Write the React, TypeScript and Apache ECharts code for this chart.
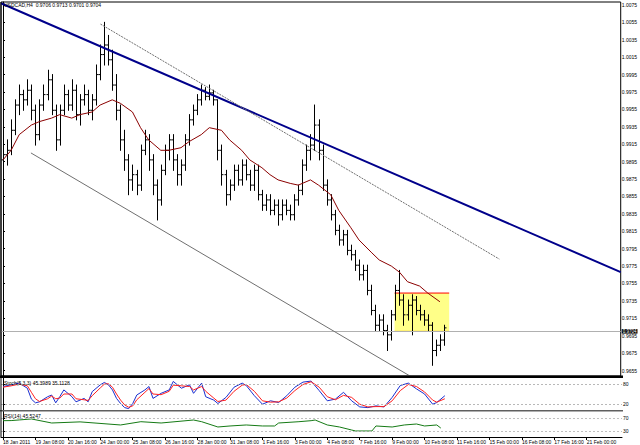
import React, { useEffect, useRef } from "react";
import * as echarts from "echarts";

const chartTitle = "USDCAD,H4  0.9706 0.9713 0.9701 0.9704";
const stochTitle = "Stoch(5,3,3) 45.3989 35.1128";
const rsiTitle = "RSI(14) 45.5247";
const currentPrice = 0.9704;

const priceTicks = [
  0.9655, 0.9675, 0.9695, 0.9715, 0.9735, 0.9755, 0.9775, 0.9795, 0.9815, 0.9835, 0.9855,
  0.9875, 0.9895, 0.9915, 0.9935, 0.9955, 0.9975, 0.9995, 1.0015, 1.0035, 1.0055, 1.0075,
];
const stochLevels = [20, 80];
const rsiLevels = [30, 70];

const timeTickBars = [0, 8, 16, 24, 32, 40, 48, 56, 64, 72, 80, 88, 96, 104, 112, 120, 128, 136, 144];
const timeTickLabels = [
  "18 Jan 2011", "19 Jan 08:00", "20 Jan 16:00", "24 Jan 00:00", "25 Jan 08:00", "26 Jan 16:00",
  "28 Jan 00:00", "31 Jan 08:00", "1 Feb 16:00", "3 Feb 00:00", "4 Feb 08:00", "7 Feb 16:00",
  "9 Feb 00:00", "10 Feb 08:00", "11 Feb 16:00", "15 Feb 00:00", "16 Feb 08:00", "17 Feb 16:00",
  "21 Feb 00:00",
];

// [open, high, low, close]
const ohlcBars = [
  [0.9897, 0.9914, 0.9885, 0.9903], [0.9903, 0.9920, 0.9891, 0.9908], [0.9908, 0.9943, 0.9903, 0.9931],
  [0.9931, 0.9966, 0.9926, 0.9960], [0.9960, 0.9983, 0.9949, 0.9972], [0.9972, 0.9977, 0.9954, 0.9966],
  [0.9966, 0.9989, 0.9960, 0.9977], [0.9977, 0.9983, 0.9943, 0.9954], [0.9954, 0.9960, 0.9914, 0.9926],
  [0.9926, 0.9966, 0.9920, 0.9960], [0.9960, 0.9983, 0.9954, 0.9972], [0.9972, 1.0000, 0.9966, 0.9989],
  [0.9989, 0.9995, 0.9949, 0.9954], [0.9954, 0.9960, 0.9908, 0.9920], [0.9920, 0.9960, 0.9914, 0.9954],
  [0.9954, 0.9983, 0.9949, 0.9972], [0.9972, 0.9977, 0.9954, 0.9960], [0.9960, 0.9989, 0.9954, 0.9977],
  [0.9977, 0.9983, 0.9943, 0.9949], [0.9949, 0.9972, 0.9937, 0.9966], [0.9966, 0.9983, 0.9960, 0.9972],
  [0.9972, 0.9977, 0.9949, 0.9954], [0.9954, 0.9972, 0.9943, 0.9966], [0.9966, 1.0006, 0.9960, 0.9995],
  [0.9995, 1.0029, 0.9989, 1.0018], [1.0018, 1.0055, 1.0006, 1.0029], [1.0029, 1.0040, 1.0006, 1.0012],
  [1.0012, 1.0023, 0.9977, 0.9983], [0.9983, 0.9995, 0.9943, 0.9954], [0.9954, 0.9960, 0.9908, 0.9920],
  [0.9920, 0.9931, 0.9885, 0.9897], [0.9897, 0.9903, 0.9857, 0.9874], [0.9874, 0.9891, 0.9862, 0.9880],
  [0.9880, 0.9885, 0.9857, 0.9868], [0.9868, 0.9914, 0.9862, 0.9908], [0.9908, 0.9931, 0.9903, 0.9920],
  [0.9920, 0.9926, 0.9885, 0.9897], [0.9897, 0.9903, 0.9857, 0.9868], [0.9868, 0.9874, 0.9828, 0.9851],
  [0.9851, 0.9891, 0.9845, 0.9885], [0.9885, 0.9914, 0.9880, 0.9908], [0.9908, 0.9926, 0.9897, 0.9920],
  [0.9920, 0.9926, 0.9885, 0.9897], [0.9897, 0.9903, 0.9868, 0.9880], [0.9880, 0.9897, 0.9868, 0.9891],
  [0.9891, 0.9926, 0.9885, 0.9920], [0.9920, 0.9949, 0.9914, 0.9943], [0.9943, 0.9960, 0.9937, 0.9954],
  [0.9954, 0.9972, 0.9949, 0.9966], [0.9966, 0.9983, 0.9960, 0.9977], [0.9977, 0.9980, 0.9966, 0.9970],
  [0.9970, 0.9983, 0.9966, 0.9974], [0.9974, 0.9977, 0.9960, 0.9966], [0.9966, 0.9966, 0.9897, 0.9908],
  [0.9908, 0.9914, 0.9868, 0.9880], [0.9880, 0.9885, 0.9845, 0.9857], [0.9857, 0.9874, 0.9851, 0.9868],
  [0.9868, 0.9891, 0.9862, 0.9885], [0.9885, 0.9891, 0.9868, 0.9874], [0.9874, 0.9897, 0.9868, 0.9891],
  [0.9891, 0.9897, 0.9874, 0.9880], [0.9880, 0.9885, 0.9862, 0.9868], [0.9868, 0.9891, 0.9862, 0.9885],
  [0.9885, 0.9891, 0.9851, 0.9857], [0.9857, 0.9862, 0.9839, 0.9845], [0.9845, 0.9857, 0.9839, 0.9851],
  [0.9851, 0.9857, 0.9834, 0.9839], [0.9839, 0.9851, 0.9834, 0.9845], [0.9845, 0.9851, 0.9822, 0.9834],
  [0.9834, 0.9851, 0.9828, 0.9845], [0.9845, 0.9851, 0.9834, 0.9839], [0.9839, 0.9845, 0.9828, 0.9834],
  [0.9834, 0.9857, 0.9828, 0.9851], [0.9851, 0.9868, 0.9845, 0.9862], [0.9862, 0.9897, 0.9857, 0.9891],
  [0.9891, 0.9914, 0.9885, 0.9908], [0.9908, 0.9926, 0.9897, 0.9914], [0.9914, 0.9960, 0.9908, 0.9937],
  [0.9937, 0.9943, 0.9897, 0.9908], [0.9908, 0.9914, 0.9862, 0.9868], [0.9868, 0.9874, 0.9845, 0.9851],
  [0.9851, 0.9857, 0.9828, 0.9834], [0.9834, 0.9839, 0.9811, 0.9816], [0.9816, 0.9822, 0.9799, 0.9805],
  [0.9805, 0.9816, 0.9799, 0.9811], [0.9811, 0.9816, 0.9788, 0.9793], [0.9793, 0.9799, 0.9782, 0.9788],
  [0.9788, 0.9793, 0.9770, 0.9776], [0.9776, 0.9782, 0.9759, 0.9765], [0.9765, 0.9776, 0.9759, 0.9770],
  [0.9770, 0.9776, 0.9742, 0.9747], [0.9747, 0.9753, 0.9719, 0.9724], [0.9724, 0.9730, 0.9701, 0.9707],
  [0.9707, 0.9719, 0.9701, 0.9713], [0.9713, 0.9719, 0.9696, 0.9701], [0.9701, 0.9707, 0.9678, 0.9696],
  [0.9696, 0.9724, 0.9690, 0.9719], [0.9719, 0.9753, 0.9713, 0.9747], [0.9747, 0.9770, 0.9730, 0.9736],
  [0.9736, 0.9742, 0.9707, 0.9719], [0.9719, 0.9736, 0.9713, 0.9730], [0.9730, 0.9742, 0.9696, 0.9736],
  [0.9736, 0.9740, 0.9719, 0.9724], [0.9724, 0.9730, 0.9713, 0.9719], [0.9719, 0.9724, 0.9707, 0.9713],
  [0.9713, 0.9719, 0.9701, 0.9707], [0.9707, 0.9710, 0.9661, 0.9678], [0.9678, 0.9690, 0.9672, 0.9684],
  [0.9684, 0.9696, 0.9678, 0.9690], [0.9690, 0.9707, 0.9684, 0.9704],
];

// moving average [bar, price]
const maPoints = [
  [0, 0.9897], [2, 0.9908], [4, 0.9926], [7, 0.9937], [9, 0.9941], [12, 0.9945], [14, 0.9949],
  [17, 0.9945], [19, 0.9949], [22, 0.9952], [24, 0.9960], [27, 0.9966], [29, 0.9962], [32, 0.9952],
  [34, 0.9934], [36, 0.9920], [39, 0.9908], [41, 0.9908], [44, 0.9911], [46, 0.9918], [49, 0.9926],
  [51, 0.9934], [54, 0.9931], [56, 0.9920], [59, 0.9908], [61, 0.9897], [64, 0.9888], [66, 0.9880],
  [68, 0.9874], [71, 0.9870], [73, 0.9868], [76, 0.9874], [78, 0.9868], [81, 0.9857], [83, 0.9839],
  [86, 0.9819], [88, 0.9805], [91, 0.9791], [93, 0.9782], [96, 0.9775], [98, 0.9768], [100, 0.9757],
  [103, 0.9752], [105, 0.9744], [108, 0.9734],
];

// trend lines [bar, price]
const mainTrend = [[-0.5, 1.0077], [152.7, 0.9768]];
const channelUpper = [[24.1, 1.0053], [122.7, 0.9783]];
const channelLower = [[6.9, 0.9905], [110, 0.9623]];
// range box [bar from, bar to, top price, bottom price]
const rangeBox = [[96.8, 110.3, 0.9744, 0.9700]];

const stochMain = [
  [0, 72], [2, 77], [4, 82], [6, 67], [7, 35], [8, 24], [9, 27], [11, 42], [12, 47], [13, 24], [14, 42],
  [15, 62], [17, 42], [18, 27], [20, 37], [21, 27], [22, 57], [24, 77], [25, 84], [26, 77], [27, 62],
  [28, 37], [29, 22], [30, 10], [31, 7], [32, 22], [33, 47], [35, 62], [36, 72], [37, 37], [39, 52],
  [41, 62], [42, 87], [44, 67], [46, 77], [47, 52], [49, 82], [50, 42], [52, 32], [53, 22], [55, 40],
  [57, 70], [59, 82], [60, 75], [62, 45], [64, 20], [66, 30], [68, 25], [70, 45], [72, 70], [74, 85],
  [76, 88], [78, 60], [80, 30], [82, 35], [84, 55], [86, 30], [88, 12], [90, 10], [92, 15], [94, 12],
  [96, 40], [98, 75], [100, 82], [102, 65], [104, 50], [106, 20], [107, 25], [109, 45],
];
const stochSignal = [
  [0, 70], [2, 74], [4, 79], [6, 74], [7, 55], [8, 36], [9, 28], [11, 36], [12, 44], [13, 36], [14, 38],
  [15, 50], [17, 50], [18, 36], [20, 33], [21, 31], [22, 45], [24, 68], [25, 79], [26, 80], [27, 70],
  [28, 50], [29, 32], [30, 18], [31, 11], [32, 15], [33, 33], [35, 55], [36, 66], [37, 50], [39, 48],
  [41, 58], [42, 76], [44, 74], [46, 72], [47, 62], [49, 72], [50, 58], [52, 38], [53, 28], [55, 32],
  [57, 58], [59, 76], [60, 78], [62, 58], [64, 30], [66, 26], [68, 27], [70, 38], [72, 60], [74, 78],
  [76, 86], [78, 70], [80, 42], [82, 33], [84, 46], [86, 40], [88, 20], [90, 12], [92, 13], [94, 13],
  [96, 30], [98, 60], [100, 78], [102, 72], [104, 56], [106, 32], [107, 26], [109, 36],
];
const rsiPoints = [
  [0, 61.7], [2, 62], [4, 64], [7, 67], [12, 54.6], [19, 58], [29, 48.5], [34, 58.6], [39, 54.6],
  [47, 63.8], [49, 58.6], [53, 42.3], [56, 45.4], [60, 48.5], [64, 45.4], [67, 45.4], [68, 54.6],
  [73, 58.6], [76, 61.7], [77, 63.8], [80, 48.5], [83, 42.3], [86, 33], [87, 30], [91, 30], [92, 45.4],
  [96, 42.3], [99, 48.5], [102, 51.5], [104, 45.4], [107, 48.5], [108, 39],
];

const FONT = "Liberation Sans";
const X_MIN = -0.5;
const X_MAX = 152.7;

export default function App() {
  const ref = useRef<HTMLDivElement>(null);
  useEffect(() => {
    if (!ref.current) return;
    const chart = echarts.init(ref.current, null, { renderer: "svg" });
    const axisFont = { fontSize: 5, color: "#000", fontFamily: FONT };
    const hiddenX = (gi: number) => ({
      type: "value", gridIndex: gi, min: X_MIN, max: X_MAX, show: false,
    });
    const option: any = {
      animation: false,
      backgroundColor: "#fff",
      grid: [
        { left: 1, top: 2, width: 621, height: 374, show: true, borderColor: "#000", borderWidth: 1 },
        { left: 1, top: 377, width: 621, height: 34, show: false },
        { left: 1, top: 411, width: 621, height: 26, show: false },
      ],
      xAxis: [
        hiddenX(0),
        hiddenX(1),
        {
          type: "value", gridIndex: 2, min: X_MIN, max: X_MAX, position: "bottom",
          axisLine: { show: true, lineStyle: { color: "#000", width: 1 } },
          axisTick: { show: true, customValues: timeTickBars, length: 3, lineStyle: { color: "#000" } },
          axisLabel: {
            show: true, customValues: timeTickBars, align: "left", margin: 2, ...axisFont,
            formatter: (v: number) => timeTickLabels[timeTickBars.indexOf(Math.round(v))] ?? "",
          },
          splitLine: { show: false },
        },
      ],
      yAxis: [
        {
          type: "value", gridIndex: 0, position: "right", min: 0.96487, max: 1.00784,
          axisLine: { show: true, lineStyle: { color: "#000" } },
          axisTick: { show: true, customValues: priceTicks, length: 2, lineStyle: { color: "#000" } },
          axisLabel: { show: true, customValues: priceTicks, margin: 1, ...axisFont, formatter: (v: number) => v.toFixed(4) },
          splitLine: { show: false },
        },
        {
          type: "value", gridIndex: 1, position: "right", min: 0, max: 100,
          axisLine: { show: true, lineStyle: { color: "#000" } },
          axisTick: { show: true, customValues: stochLevels, length: 2, lineStyle: { color: "#000" } },
          axisLabel: { show: true, customValues: stochLevels, margin: 1, ...axisFont },
          splitLine: { show: false },
        },
        {
          type: "value", gridIndex: 2, position: "right", min: 11.5, max: 91.5,
          axisLine: { show: true, lineStyle: { color: "#000" } },
          axisTick: { show: true, customValues: rsiLevels, length: 2, lineStyle: { color: "#000" } },
          axisLabel: { show: true, customValues: rsiLevels, margin: 1, ...axisFont },
          splitLine: { show: false },
        },
      ],
      series: [
        {
          type: "custom", name: "box", xAxisIndex: 0, yAxisIndex: 0, z: 1, clip: true,
          data: rangeBox,
          renderItem: (_p: any, api: any) => {
            const a = api.coord([api.value(0), api.value(2)]);
            const b = api.coord([api.value(1), api.value(3)]);
            return {
              type: "group",
              children: [
                { type: "rect", shape: { x: a[0], y: a[1], width: b[0] - a[0], height: b[1] - a[1] }, style: { fill: "#ffff88" } },
                { type: "line", shape: { x1: a[0], y1: a[1], x2: b[0], y2: a[1] }, style: { stroke: "#ff0000", lineWidth: 1 } },
                { type: "line", shape: { x1: a[0], y1: b[1], x2: b[0], y2: b[1] }, style: { stroke: "#ffa500", lineWidth: 1 } },
              ],
            };
          },
        },
        {
          type: "custom", name: "bars", xAxisIndex: 0, yAxisIndex: 0, z: 3, clip: true,
          data: ohlcBars.map((b, i) => [i, b[0], b[1], b[2], b[3]]),
          encode: { x: 0, y: [1, 2, 3, 4] },
          renderItem: (_p: any, api: any) => {
            const i = api.value(0);
            const o = api.coord([i, api.value(1)]);
            const h = api.coord([i, api.value(2)]);
            const l = api.coord([i, api.value(3)]);
            const c = api.coord([i, api.value(4)]);
            const x = Math.round(o[0]) + 0.5;
            const st = { stroke: "#000", lineWidth: 1 };
            return {
              type: "group",
              children: [
                { type: "line", shape: { x1: x, y1: h[1] - 0.5, x2: x, y2: l[1] + 0.5 }, style: st },
                { type: "line", shape: { x1: x - 2, y1: o[1], x2: x, y2: o[1] }, style: st },
                { type: "line", shape: { x1: x, y1: c[1], x2: x + 2, y2: c[1] }, style: st },
              ],
            };
          },
        },
        {
          type: "line", name: "MA", xAxisIndex: 0, yAxisIndex: 0, z: 4, data: maPoints, showSymbol: false,
          lineStyle: { color: "#8b0000", width: 1 },
          markLine: {
            silent: true, symbol: "none",
            lineStyle: { color: "#b0b0b0", type: "solid", width: 1 },
            label: {
              show: true, position: "end", formatter: currentPrice.toFixed(4), backgroundColor: "#000",
              color: "#fff", fontSize: 4.5, lineHeight: 4.5, fontFamily: FONT, padding: [0, 1, 0, 1], distance: 1,
            },
            data: [{ yAxis: currentPrice }],
          },
        },
        {
          type: "line", name: "trend", xAxisIndex: 0, yAxisIndex: 0, z: 5, data: mainTrend, showSymbol: false,
          clip: true, lineStyle: { color: "#00008b", width: 2 },
        },
        {
          type: "line", name: "chanUp", xAxisIndex: 0, yAxisIndex: 0, z: 5, data: channelUpper, showSymbol: false,
          clip: true, lineStyle: { color: "#707070", width: 1, type: [2, 1] },
        },
        {
          type: "line", name: "chanLow", xAxisIndex: 0, yAxisIndex: 0, z: 5, data: channelLower, showSymbol: false,
          clip: true, lineStyle: { color: "#707070", width: 1 },
        },
        {
          type: "line", name: "stochMain", xAxisIndex: 1, yAxisIndex: 1, data: stochMain, showSymbol: false,
          lineStyle: { color: "#1a2fd0", width: 1 },
          markLine: {
            silent: true, symbol: "none", label: { show: false },
            lineStyle: { color: "#b8b8b8", type: [2, 2], width: 1 },
            data: stochLevels.map((v) => ({ yAxis: v })),
          },
        },
        {
          type: "line", name: "stochSignal", xAxisIndex: 1, yAxisIndex: 1, data: stochSignal, showSymbol: false,
          lineStyle: { color: "#ff2020", width: 1 },
        },
        {
          type: "line", name: "rsi", xAxisIndex: 2, yAxisIndex: 2, data: rsiPoints, showSymbol: false,
          lineStyle: { color: "#157a15", width: 1 },
          markLine: {
            silent: true, symbol: "none", label: { show: false },
            lineStyle: { color: "#c0c0c0", type: [2, 2], width: 1 },
            data: rsiLevels.map((v) => ({ yAxis: v })),
          },
        },
      ],
      graphic: [
        { type: "rect", shape: { x: 0, y: 375.5, width: 623, height: 2.5 }, style: { fill: "#000" }, z: 100 },
        { type: "rect", shape: { x: 0, y: 410, width: 623, height: 1.5 }, style: { fill: "#606060" }, z: 100 },
        { type: "line", shape: { x1: 1, y1: 2, x2: 1, y2: 437 }, style: { stroke: "#000", lineWidth: 1 }, z: 100 },
        { type: "text", x: 4, y: 2, z: 100, style: { text: chartTitle, fontSize: 5, fontFamily: FONT, fill: "#000" } },
        { type: "text", x: 4, y: 380, z: 100, style: { text: stochTitle, fontSize: 5, fontFamily: FONT, fill: "#000" } },
        { type: "text", x: 4, y: 413, z: 100, style: { text: rsiTitle, fontSize: 5, fontFamily: FONT, fill: "#000" } },
      ],
    };
    chart.setOption(option);
    return () => chart.dispose();
  }, []);
  return (
    <div
      ref={ref}
      style={{ position: "fixed", left: 0, top: 0, width: 640, height: 445, background: "#fff" }}
    />
  );
}
